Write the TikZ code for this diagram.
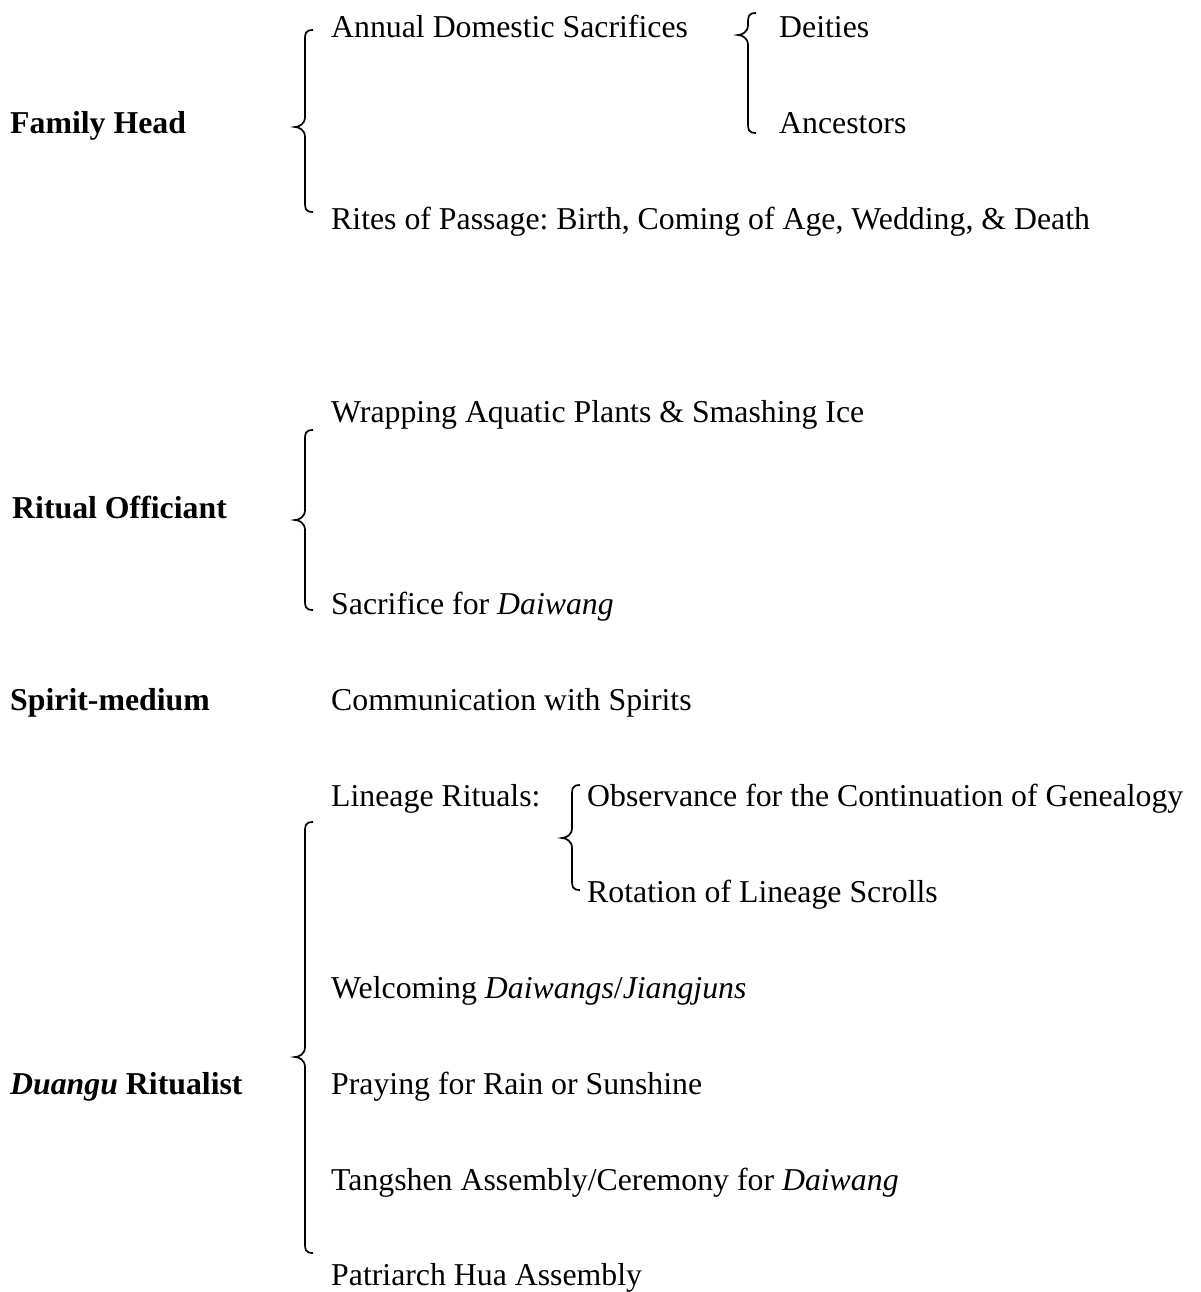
\documentclass[tikz,border=0pt]{standalone}
\usepackage{fontspec}
\setmainfont{Liberation Serif}
\frenchspacing
\newcommand\mybrace[4]{%
\draw[brc] ({#1+8},#2) .. controls (#1,#2) and (#1,{#2+4}) .. (#1,{#2+10}) -- (#1,{#3-10}) .. controls (#1,{#3-3}) and ({#1-6},#3) .. ({#1-10},#3) .. controls ({#1-6},#3) and (#1,{#3+3}) .. (#1,{#3+10}) -- (#1,{#4-10}) .. controls (#1,{#4-4}) and (#1,#4) .. ({#1+8},#4);}
\begin{document}
\frenchspacing
\begin{tikzpicture}[x=1pt,y=-1pt,
  txt/.style={anchor=base west, inner sep=0pt, font=\fontsize{31.8}{38}\selectfont},
  hd/.style={txt, font=\fontsize{31.8}{38}\selectfont\bfseries},
  brc/.style={line width=1.7pt}]
\useasboundingbox (0,0) rectangle (1200,1292);
% heads
\node[hd] (fh) at (10,134) {Family Head};
\node[hd] (ro) at (12,518) {Ritual Officiant};
\node[hd] (sm) at (10,710) {Spirit-medium};
\node[hd] (dr) at (10,1094) {\textit{Duangu} Ritualist};
% items
\node[txt] (ads) at (331,38) {Annual Domestic Sacrifices};
\node[txt] (dei) at (779,38) {Deities};
\node[txt] (anc) at (779,134) {Ancestors};
\node[txt] (rop) at (331,229) {Rites of Passage: Birth, Coming of Age, Wedding, \& Death};
\node[txt] (wap) at (331,422) {Wrapping Aquatic Plants \& Smashing Ice};
\node[txt] (sfd) at (331,614) {Sacrifice for \textit{Daiwang}};
\node[txt] (cws) at (331,710) {Communication with Spirits};
\node[txt] (lr) at (331,806) {Lineage Rituals:};
\node[txt] (obs) at (587,806) {Observance for the Continuation of Genealogy};
\node[txt] (rls) at (587,902) {Rotation of Lineage Scrolls};
\node[txt] (wdj) at (331,998) {Welcoming \textit{Daiwangs}/\textit{Jiangjuns}};
\node[txt] (prs) at (331,1094) {Praying for Rain or Sunshine};
\node[txt] (tac) at (331,1190) {Tangshen Assembly/Ceremony for \textit{Daiwang}};
\node[txt] (pha) at (331,1285) {Patriarch Hua Assembly};
% braces
\mybrace{305}{30}{127}{212}
\mybrace{748}{13}{35}{133}
\mybrace{305}{430}{520}{610}
\mybrace{572}{785}{838}{890}
\mybrace{305}{822}{1057}{1253}
\end{tikzpicture}
\end{document}
